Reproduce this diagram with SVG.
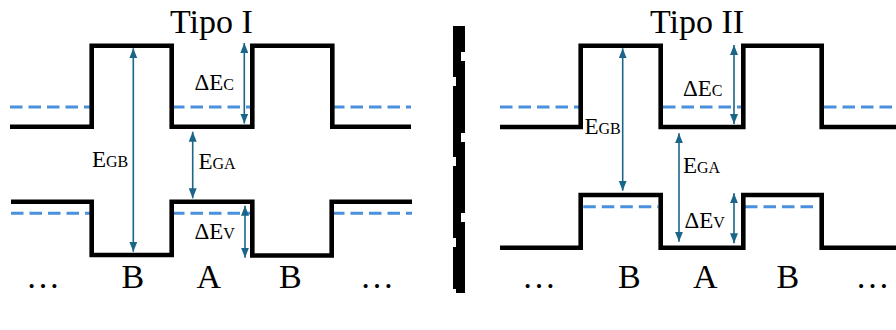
<svg xmlns="http://www.w3.org/2000/svg" width="896" height="330" viewBox="0 0 896 330">
<style>
.band{fill:none;stroke:#000;stroke-width:4.6;stroke-linejoin:miter;stroke-linecap:butt}
.fermi{fill:none;stroke:#4a90dc;stroke-width:3;stroke-dasharray:12.5 6}
.arr{fill:none;stroke:#1b6688;stroke-width:1.6;marker-start:url(#ah);marker-end:url(#ah)}
text{font-family:'Liberation Serif','Times New Roman',serif;fill:#000}
.big{font-size:23px}
.sc{font-size:16px}
.lbl{font-size:34px}
.title{font-size:34px}
</style>
<defs>
<marker id="ah" viewBox="0 0 10 8" refX="10" refY="4" markerWidth="10" markerHeight="8" markerUnits="userSpaceOnUse" orient="auto-start-reverse">
<path d="M0,0 L10,4 L0,8 Z" fill="#1b6688"/>
</marker>
</defs>
<rect width="896" height="330" fill="#fff"/>

<g id="tipo1">
<text class="title" x="170" y="33">Tipo I</text>
<g id="t1-cb">
<path class="fermi" d="M10,107 H92 M172,107 H252 M332,107 H411"/>
<path class="band" d="M10,126.7 H91.7 V45.7 H171.7 V126.7 H252.3 V45.7 H332.3 V126.7 H411"/>
</g>
<g id="t1-vb">
<path class="fermi" d="M11,213.3 H92 M172,213.3 H252 M332,213.3 H412"/>
<path class="band" d="M11,201.7 H91.7 V255 H171.7 V201.7 H252.3 V255.5 H331.7 V201.7 H412"/>
</g>
<g id="t1-labels">
<text x="26" y="288.3" class="lbl">…</text>
<text x="121.5" y="288.3" class="lbl">B</text>
<text x="196.5" y="288.3" class="lbl">A</text>
<text x="279" y="288.3" class="lbl">B</text>
<text x="360" y="288.3" class="lbl">…</text>
<text x="194.5" y="89.5"><tspan class="big">ΔE</tspan><tspan class="sc">C</tspan></text>
<text x="92" y="166.5"><tspan class="big">E</tspan><tspan class="sc">GB</tspan></text>
<text x="198.5" y="169"><tspan class="big">E</tspan><tspan class="sc">GA</tspan></text>
<text x="194.5" y="239.3"><tspan class="big">ΔE</tspan><tspan class="sc">V</tspan></text>
</g>
</g>

<g id="separator">
<path d="M453,26 H465 V52 H461 V61 H465 V133 H461 V142 H465 V213 H461 V222 H465 V293 H456 V289 H453 V247 H456 V238 H453 V166 H456 V157 H453 V86 H456 V77 H453 Z" fill="#000"/>
</g>

<g id="tipo2">
<text class="title" x="650" y="33">Tipo II</text>
<g id="t2-cb">
<path class="fermi" d="M500,107 H579 M663,107 H741 M824,107 H896"/>
<path class="band" d="M500,127 H580.7 V45.7 H660.7 V127 H743.3 V45.7 H821.7 V127 H900"/>
</g>
<g id="t2-vb">
<path class="fermi" d="M583.3,206.7 H658.3 M745,206.7 H819"/>
<path class="band" d="M500,247.7 H580.7 V195 H660.7 V247.7 H743.3 V195 H821.7 V247.7 H900"/>
</g>
<g id="t2-labels">
<text x="522" y="288.3" class="lbl">…</text>
<text x="618" y="288.3" class="lbl">B</text>
<text x="693" y="288.3" class="lbl">A</text>
<text x="776.5" y="288.3" class="lbl">B</text>
<text x="855.5" y="288.3" class="lbl">…</text>
<text x="683" y="96"><tspan class="big">ΔE</tspan><tspan class="sc">C</tspan></text>
<text x="584.5" y="134"><tspan class="big">E</tspan><tspan class="sc">GB</tspan></text>
<text x="683" y="173"><tspan class="big">E</tspan><tspan class="sc">GA</tspan></text>
<text x="684.5" y="228.3"><tspan class="big">ΔE</tspan><tspan class="sc">V</tspan></text>
</g>
</g>

<g id="connectors">
<line class="arr" x1="133.3" y1="48.3" x2="133.3" y2="251.7"/>
<line class="arr" x1="192.7" y1="131.7" x2="192.7" y2="198.3"/>
<line class="arr" x1="244.3" y1="43" x2="244.3" y2="123.5"/>
<line class="arr" x1="245" y1="205.7" x2="245" y2="257.7"/>
<line class="arr" x1="622.7" y1="48.3" x2="622.7" y2="190.7"/>
<line class="arr" x1="679" y1="133.3" x2="679" y2="241.7"/>
<line class="arr" x1="734" y1="45" x2="734" y2="124"/>
<line class="arr" x1="734" y1="193.3" x2="734" y2="243.3"/>
</g>
</svg>
